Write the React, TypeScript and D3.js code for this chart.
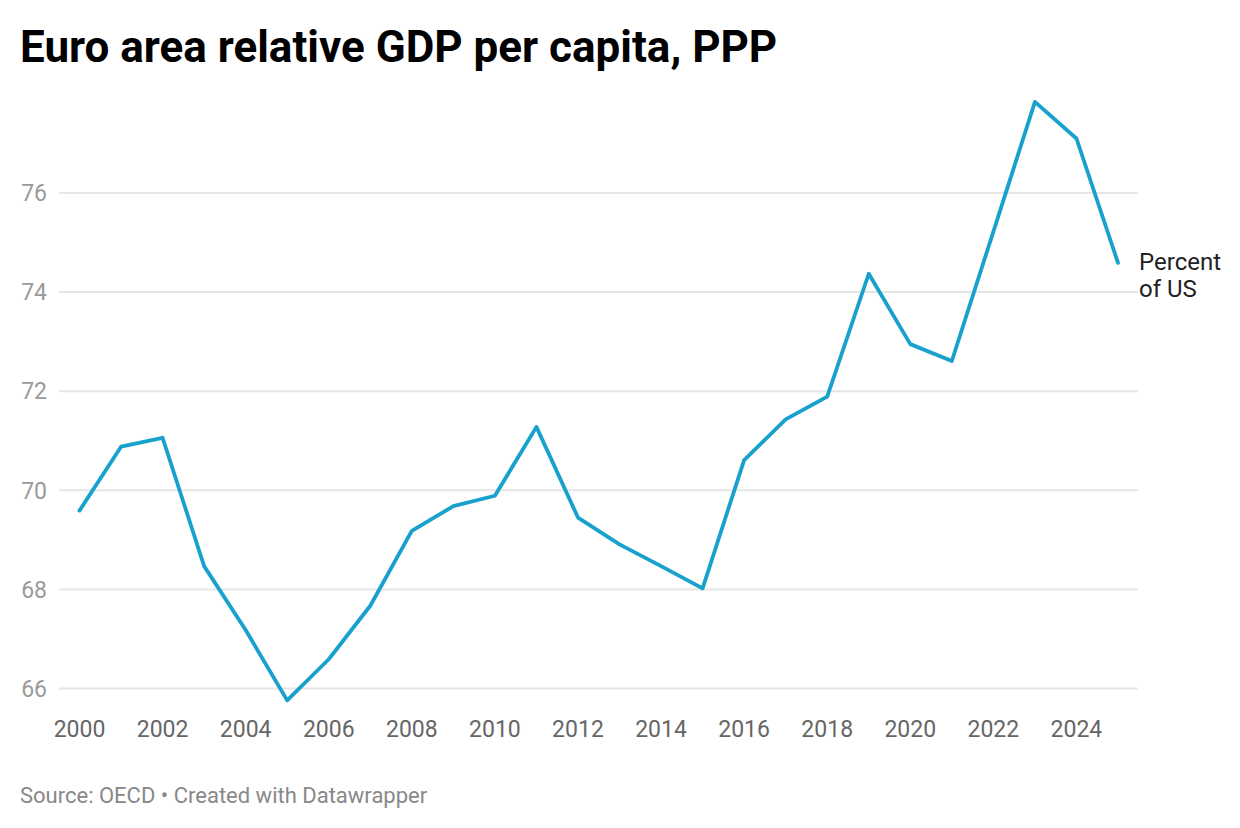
import React from "react";
import * as d3 from "d3";

const years: number[] = [
  2000, 2001, 2002, 2003, 2004, 2005, 2006, 2007, 2008, 2009, 2010, 2011, 2012,
  2013, 2014, 2015, 2016, 2017, 2018, 2019, 2020, 2021, 2022, 2023, 2024, 2025,
];
const percentOfUS: number[] = [
  69.59, 70.88, 71.06, 68.47, 67.18, 65.76, 66.59, 67.67, 69.18, 69.68, 69.89,
  71.28, 69.45, 68.91, 68.47, 68.02, 70.61, 71.43, 71.89, 74.37, 72.95, 72.61,
  75.22, 77.84, 77.1, 74.59,
];
const yTicks: number[] = [66, 68, 70, 72, 74, 76];
const xTicks: number[] = [2000, 2002, 2004, 2006, 2008, 2010, 2012, 2014, 2016, 2018, 2020, 2022, 2024];

const title = "Euro area relative GDP per capita, PPP";
const seriesLabel = ["Percent", "of US"];
const source = "Source: OECD • Created with Datawrapper";

const W = 1240;
const H = 828;

export default function App() {
  const x = d3.scaleLinear().domain([2000, 2025]).range([79.5, 1118]);
  const y = d3.scaleLinear().domain([66, 76]).range([688.5, 193]);
  const gridX0 = 59;
  const gridX1 = 1138;

  const pts: [number, number][] = years.map((yr, i) => [yr, percentOfUS[i]]);
  const line = d3
    .line<[number, number]>()
    .x((d) => x(d[0]))
    .y((d) => y(d[1]));

  const last = pts[pts.length - 1];

  return (
    <svg
      width={W}
      height={H}
      viewBox={`0 0 ${W} ${H}`}
      style={{ position: "absolute", left: 0, top: 0, display: "block", background: "#fff" }}
      fontFamily="Roboto, 'Noto Sans', sans-serif"
    >
      <rect x={0} y={0} width={W} height={H} fill="#fff" />
      <text x={20} y={61.5} fontSize={44} fontWeight={700} fill="#000">
        {title}
      </text>

      {yTicks.map((t) => (
        <g key={t}>
          <line x1={gridX0} x2={gridX1} y1={y(t)} y2={y(t)} stroke="#e6e6e6" strokeWidth={2} />
          <text
            x={47}
            y={y(t)}
            dy="0.36em"
            textAnchor="end"
            fontSize={23}
            fill="#9a9a9a"
          >
            {t}
          </text>
        </g>
      ))}

      {xTicks.map((t) => (
        <text key={t} x={x(t)} y={736.5} textAnchor="middle" fontSize={23} fill="#666">
          {t}
        </text>
      ))}

      <path
        d={line(pts) || ""}
        fill="none"
        stroke="#18a1cd"
        strokeWidth={3.8}
        strokeLinejoin="round"
        strokeLinecap="round"
      />

      <text x={x(last[0]) + 21} y={y(last[1]) + 7} fontSize={24} fill="#222">
        <tspan x={x(last[0]) + 21}>{seriesLabel[0]}</tspan>
        <tspan x={x(last[0]) + 21} dy={27}>{seriesLabel[1]}</tspan>
      </text>

      <text x={20} y={803} fontSize={22} fill="#888">
        {source}
      </text>
    </svg>
  );
}
